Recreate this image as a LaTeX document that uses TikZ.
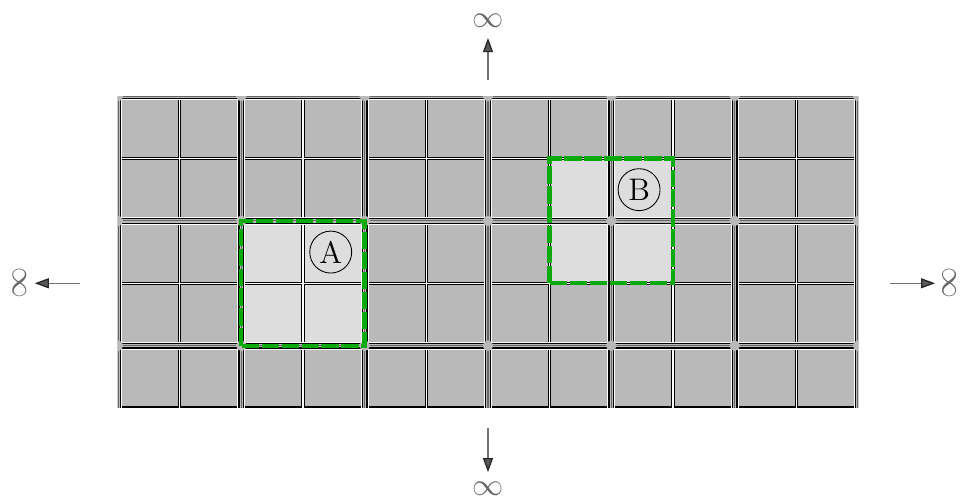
\documentclass[tikz,border=0pt]{standalone}
\usetikzlibrary{arrows.meta}

\definecolor{tilegray}{RGB}{185,185,185}
\definecolor{tilelight}{RGB}{221,221,221}
\definecolor{framegreen}{RGB}{10,170,10}

\tikzset{
  tile/.style={fill=tilegray, draw=black, line width=0.5pt},
  ridge/.style={draw=white, line width=3.8pt,
    postaction={draw=black, line width=2.8pt},
    postaction={draw=tilegray, line width=1.6pt},
    postaction={draw=black!60, line width=0.5pt}},
  frame/.style={draw=framegreen, line width=2pt, dash pattern=on 8pt off 1.2pt},
  tag/.style={circle, draw, line width=0.4pt, minimum size=0.68cm, inner sep=0pt, font=\Large},
  inf/.style={text=black!60, font=\Large, inner sep=0pt},
  escape/.style={draw=black!55, line width=0.6pt,
    -{Triangle[length=6.5pt,width=4.6pt,color=black!85,fill=black!65]}}
}

\begin{document}
\begin{tikzpicture}[y=1.012cm]
  \useasboundingbox (-1.913,-1.458) rectangle (13.654,6.539);

  % tiles
  \foreach \x in {0,...,11}
    \foreach \y in {0,...,4}
      \draw[tile] (\x+0.018,\y+0.018) rectangle (\x+0.982,\y+0.982);
  \foreach \x/\y in {2/1,3/1,2/2,3/2,7/2,8/2,7/3,8/3}
    \draw[tile, fill=tilelight] (\x+0.018,\y+0.018) rectangle (\x+0.982,\y+0.982);

  % block seams
  \begin{scope}
    \clip (0,0) rectangle (12,5);
    \foreach \x in {0,2,...,12}
      \draw[ridge] (\x,0) -- (\x,5);
    \foreach \y in {1,3,5}
      \draw[ridge] (0,\y) -- (12,\y);
    \foreach \x in {0,2,...,12}
      \foreach \y in {1,3,5}
        \fill[tilegray] (\x,\y) circle (0.085);
  \end{scope}

  % regions
  \draw[frame] (2,1) rectangle (4,3);
  \draw[frame] (7,2) rectangle (9,4);
  \node[tag] (markA) at (3.45,2.5) {A};
  \node[tag] (markB) at (8.45,3.5) {B};

  % directions to infinity
  \coordinate (nbase) at (6,5.256);
  \coordinate (ntip) at (6,5.93);
  \coordinate (sbase) at (6,-0.32);
  \coordinate (stip) at (6,-1.026);
  \coordinate (wbase) at (-0.62,2);
  \coordinate (wtip) at (-1.35,2);
  \coordinate (ebase) at (12.52,2);
  \coordinate (etip) at (13.25,2);
  \draw[escape] (nbase) -- (ntip);
  \draw[escape] (sbase) -- (stip);
  \draw[escape] (wbase) -- (wtip);
  \draw[escape] (ebase) -- (etip);
  \node[inf] (infN) at (6,6.2) {$\infty$};
  \node[inf] (infS) at (6,-1.3) {$\infty$};
  \node[inf, rotate=90] (infW) at (-1.6,2) {$\infty$};
  \node[inf, rotate=90] (infE) at (13.48,2) {$\infty$};
\end{tikzpicture}
\end{document}
